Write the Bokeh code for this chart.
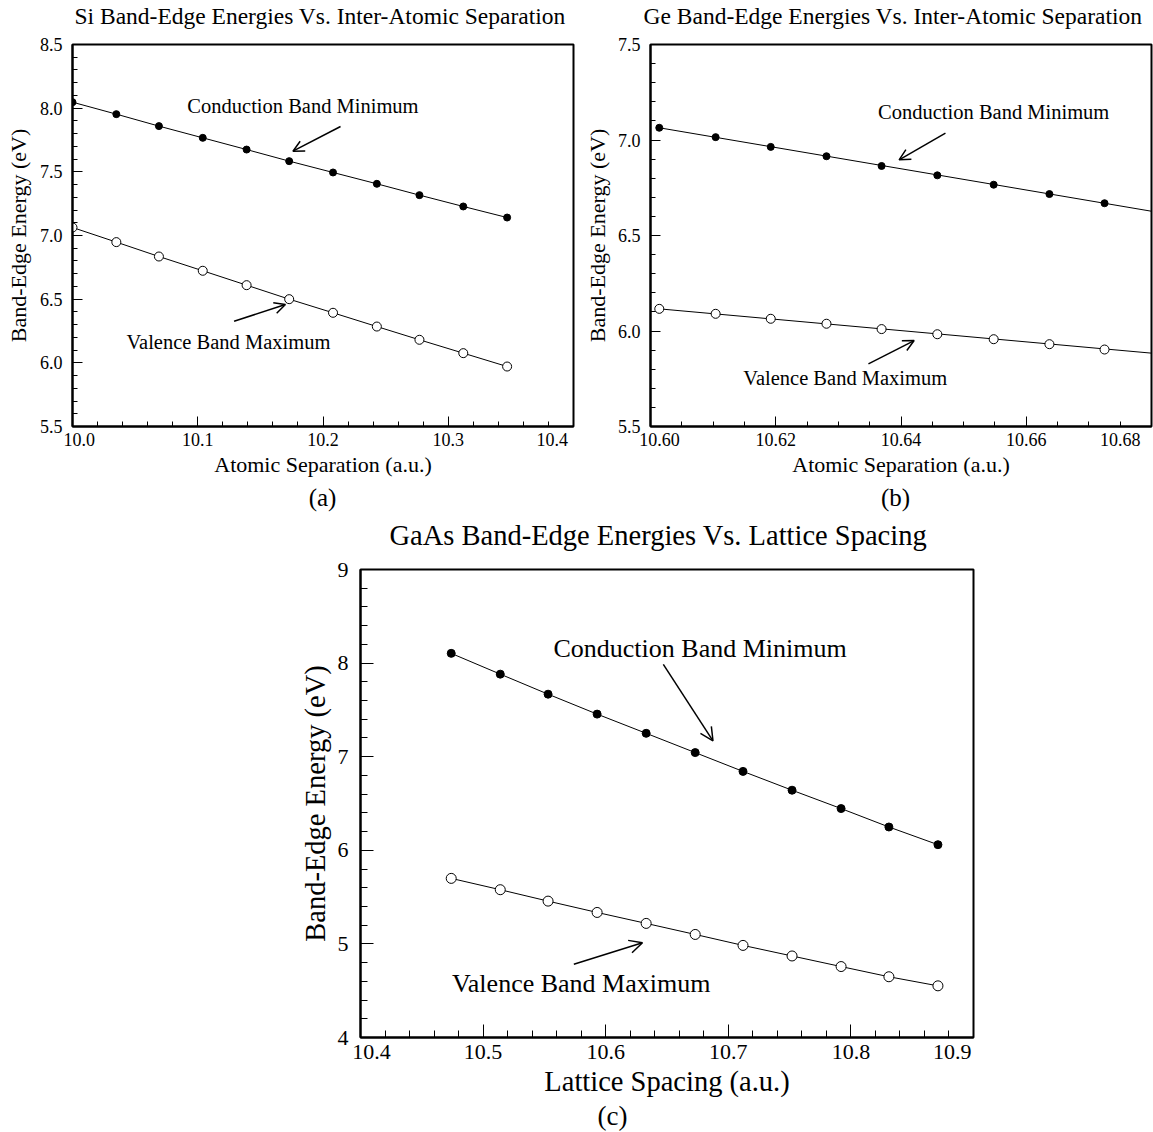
from bokeh.plotting import figure
from bokeh.models import (Range1d, FixedTicker, PrintfTickFormatter, Arrow,
                          OpenHead, Label, Spacer)
from bokeh.layouts import column, row
from bokeh.embed import file_html
from bokeh.resources import INLINE

FONT = "Liberation Serif"
NB = "\u00a0"

# ---------------- data ----------------
si_x = [10.000, 10.035, 10.069, 10.104, 10.139, 10.173, 10.208, 10.243, 10.277, 10.312, 10.347]
si_cbm = [8.047, 7.953, 7.859, 7.767, 7.675, 7.584, 7.495, 7.406, 7.317, 7.228, 7.141]
si_vbm = [7.063, 6.948, 6.835, 6.723, 6.610, 6.500, 6.393, 6.285, 6.181, 6.076, 5.971]

ge_x = [10.6014, 10.6104, 10.6192, 10.6281, 10.6369, 10.6458, 10.6548, 10.6637, 10.6725]
ge_cbm = [7.064, 7.015, 6.964, 6.915, 6.864, 6.815, 6.766, 6.717, 6.669]
ge_vbm = [6.116, 6.090, 6.064, 6.038, 6.010, 5.983, 5.957, 5.931, 5.903]
ge_fit_x = [10.6014, 10.68]
ge_cbm_fit = [7.064, 6.627]
ge_vbm_fit = [6.116, 5.884]

gaas_x = [10.474, 10.514, 10.553, 10.593, 10.633, 10.673, 10.712, 10.752, 10.792, 10.831, 10.871]
gaas_cbm = [8.104, 7.882, 7.668, 7.455, 7.250, 7.044, 6.843, 6.642, 6.446, 6.249, 6.060]
gaas_vbm = [5.700, 5.579, 5.457, 5.336, 5.219, 5.101, 4.984, 4.871, 4.758, 4.649, 4.552]

# ticks
si_xticks = [10.0, 10.1, 10.2, 10.3, 10.4]
si_yticks = [5.5, 6.0, 6.5, 7.0, 7.5, 8.0, 8.5]
ge_xticks = [10.60, 10.62, 10.64, 10.66, 10.68]
ge_yticks = [5.5, 6.0, 6.5, 7.0, 7.5]
gaas_xticks = [10.4, 10.5, 10.6, 10.7, 10.8, 10.9]
gaas_yticks = [4, 5, 6, 7, 8, 9]

titles = ["Si Band-Edge Energies Vs. Inter-Atomic Separation",
          "Ge Band-Edge Energies Vs. Inter-Atomic Separation",
          "GaAs Band-Edge Energies Vs. Lattice Spacing"]
xlabels = ["Atomic Separation (a.u.)", "Atomic Separation (a.u.)", "Lattice Spacing (a.u.)"]
ylabel = "Band-Edge Energy (eV)"
captions = ["(a)", "(b)", "(c)"]
cbm_text = "Conduction Band Minimum"
vbm_text = "Valence Band Maximum"


def minor_list(lo, hi, step):
    n = int(round((hi - lo) / step))
    return [round(lo + i * step, 6) for i in range(n + 1)]


def make(xr, yr, xt, yt, xminor, yminor, xfmt, yfmt, fw, fh,
         bl, br, bt, bb, tick_fs, lab_fs,
         ylab_standoff, xlab_standoff, ylbl_standoff, xlbl_standoff, maj, mnr):
    p = figure(frame_width=fw, frame_height=fh, x_range=Range1d(*xr), y_range=Range1d(*yr),
               output_backend="svg", toolbar_location=None,
               min_border_left=bl, min_border_right=br, min_border_top=bt,
               min_border_bottom=bb)
    p.xgrid.visible = False
    p.ygrid.visible = False
    p.outline_line_color = "black"
    p.outline_line_width = 2
    p.outline_line_alpha = 1
    p.background_fill_color = "white"
    p.border_fill_color = "white"
    p.xaxis.ticker = FixedTicker(ticks=xt, minor_ticks=xminor)
    p.yaxis.ticker = FixedTicker(ticks=yt, minor_ticks=yminor)
    p.xaxis.formatter = PrintfTickFormatter(format=xfmt)
    p.yaxis.formatter = PrintfTickFormatter(format=yfmt)
    for ax in (p.xaxis[0], p.yaxis[0]):
        ax.axis_line_width = 2
        ax.axis_line_color = "black"
        ax.major_tick_in = maj
        ax.major_tick_out = 0
        ax.minor_tick_in = mnr
        ax.minor_tick_out = 0
        ax.major_tick_line_color = "black"
        ax.minor_tick_line_color = "black"
        ax.major_tick_line_width = 1
        ax.minor_tick_line_width = 1
        ax.major_label_text_font = FONT
        ax.major_label_text_font_size = f"{tick_fs}px"
        ax.major_label_text_color = "black"
        ax.axis_label_text_font = FONT
        ax.axis_label_text_font_style = "normal"
        ax.axis_label_text_font_size = f"{lab_fs}px"
        ax.axis_label_text_color = "black"
    p.yaxis.major_label_standoff = ylbl_standoff
    p.xaxis.major_label_standoff = xlbl_standoff
    p.yaxis.axis_label_standoff = ylab_standoff
    p.xaxis.axis_label_standoff = xlab_standoff
    return p


def annotate(p, fs, head, cbm_pos, cbm_arrow, vbm_pos, vbm_arrow):
    for txt, pos in ((cbm_text, cbm_pos), (vbm_text, vbm_pos)):
        p.add_layout(Label(x=pos[0], y=pos[1], text=txt, text_align="center",
                           text_baseline="middle", text_font=FONT,
                           text_font_size=fs, text_color="black"))
    for a in (cbm_arrow, vbm_arrow):
        p.add_layout(Arrow(end=OpenHead(size=head, line_width=1.5, line_color="black"),
                           x_start=a[0], y_start=a[1], x_end=a[2], y_end=a[3],
                           line_width=1.5, line_color="black"))


def strip(w, h, items):
    s = figure(width=w, height=h, x_range=Range1d(0, w), y_range=Range1d(h, 0),
               output_backend="svg", toolbar_location=None, min_border=0,
               x_axis_location=None, y_axis_location=None)
    s.grid.visible = False
    s.outline_line_color = None
    s.background_fill_color = "white"
    s.border_fill_color = "white"
    for (x, y, txt, fs, align) in items:
        s.add_layout(Label(x=x, y=y, text=txt, text_align=align,
                           text_baseline="middle", text_font=FONT,
                           text_font_size=fs, text_color="black"))
    return s


PAGE_W = 1153

# ---------------- (a) Si ----------------
pa = make((10.0, 10.4), (5.5, 8.5), si_xticks, si_yticks,
          minor_list(10.0, 10.4, 0.02), minor_list(5.5, 8.5, 0.1), "%.1f", "%.1f",
          501, 382, 72, 8, 10, 57, 18, 22, 6, -1, 10, 3, 10, 5)
pa.xaxis.axis_label = xlabels[0]
pa.yaxis.axis_label = ylabel
pa.xaxis.major_label_overrides = {10.0: NB * 3 + "10.0", 10.4: "10.4" + NB * 3}
pa.line(si_x, si_cbm, line_color="black", line_width=1)
pa.line(si_x, si_vbm, line_color="black", line_width=1)
pa.scatter(si_x, si_cbm, marker="circle", size=7, fill_color="black", line_color="black")
pa.scatter(si_x, si_vbm, marker="circle", size=9, fill_color="white", line_color="black", line_width=1)
annotate(pa, "20.5px", 11, (10.184, 8.02), (10.214, 7.856, 10.176, 7.662),
         (10.1245, 6.162), (10.129, 6.326, 10.170, 6.458))

# ---------------- (b) Ge ----------------
pb = make((10.60, 10.68), (5.5, 7.5), ge_xticks, ge_yticks,
          minor_list(10.60, 10.68, 0.005), minor_list(5.5, 7.5, 0.1), "%.2f", "%.1f",
          501, 382, 64, 7, 10, 57, 18, 22, 5, -1, 10, 3, 10, 5)
pb.xaxis.axis_label = xlabels[1]
pb.yaxis.axis_label = ylabel
pb.xaxis.major_label_overrides = {10.60: NB * 4 + "10.60", 10.68: "10.68" + NB * 4}
pb.line(ge_fit_x, ge_cbm_fit, line_color="black", line_width=1)
pb.line(ge_fit_x, ge_vbm_fit, line_color="black", line_width=1)
pb.scatter(ge_x, ge_cbm, marker="circle", size=7, fill_color="black", line_color="black")
pb.scatter(ge_x, ge_vbm, marker="circle", size=9, fill_color="white", line_color="black", line_width=1)
annotate(pb, "20.5px", 11, (10.6548, 7.144), (10.6471, 7.036, 10.6397, 6.896),
         (10.6311, 5.755), (10.6348, 5.828, 10.6421, 5.950))

# ---------------- (c) GaAs ----------------
pc = make((10.4, 10.9), (4, 9), gaas_xticks, gaas_yticks,
          minor_list(10.4, 10.9, 0.02), minor_list(4, 9, 0.2), "%.1f", "%d",
          613, 468, 62, 20, 13, 62, 22, 28.5, 4, -1, 12, 1, 13, 7)
pc.xaxis.axis_label = xlabels[2]
pc.yaxis.axis_label = ylabel
pc.xaxis.major_label_overrides = {10.4: NB * 4 + "10.4", 10.9: "10.9" + NB * 4}
pc.line(gaas_x, gaas_cbm, line_color="black", line_width=1)
pc.line(gaas_x, gaas_vbm, line_color="black", line_width=1)
pc.scatter(gaas_x, gaas_cbm, marker="circle", size=8, fill_color="black", line_color="black")
pc.scatter(gaas_x, gaas_vbm, marker="circle", size=10, fill_color="white", line_color="black", line_width=1)
annotate(pc, "26px", 13, (10.677, 8.154), (10.647, 7.987, 10.6875, 7.170),
         (10.580, 4.574), (10.574, 4.783, 10.630, 5.013))

# ---------------- title / caption strips ----------------
s1 = strip(PAGE_W, 34, [(74, 15.5, titles[0], "23.5px", "left"),
                        (643, 15.5, titles[1], "23.5px", "left")])
s2 = strip(PAGE_W, 73, [(322, 13.5, captions[0], "25px", "center"),
                        (895, 13.5, captions[1], "25px", "center"),
                        (389, 51.5, titles[2], "28.5px", "left")])
s3 = strip(PAGE_W, 33, [(612, 16, captions[2], "27px", "center")])

layout = column(s1, row(pa, pb), s2, row(Spacer(width=296, height=543), pc), s3)

open("out.html", "w").write(file_html(layout, INLINE))
